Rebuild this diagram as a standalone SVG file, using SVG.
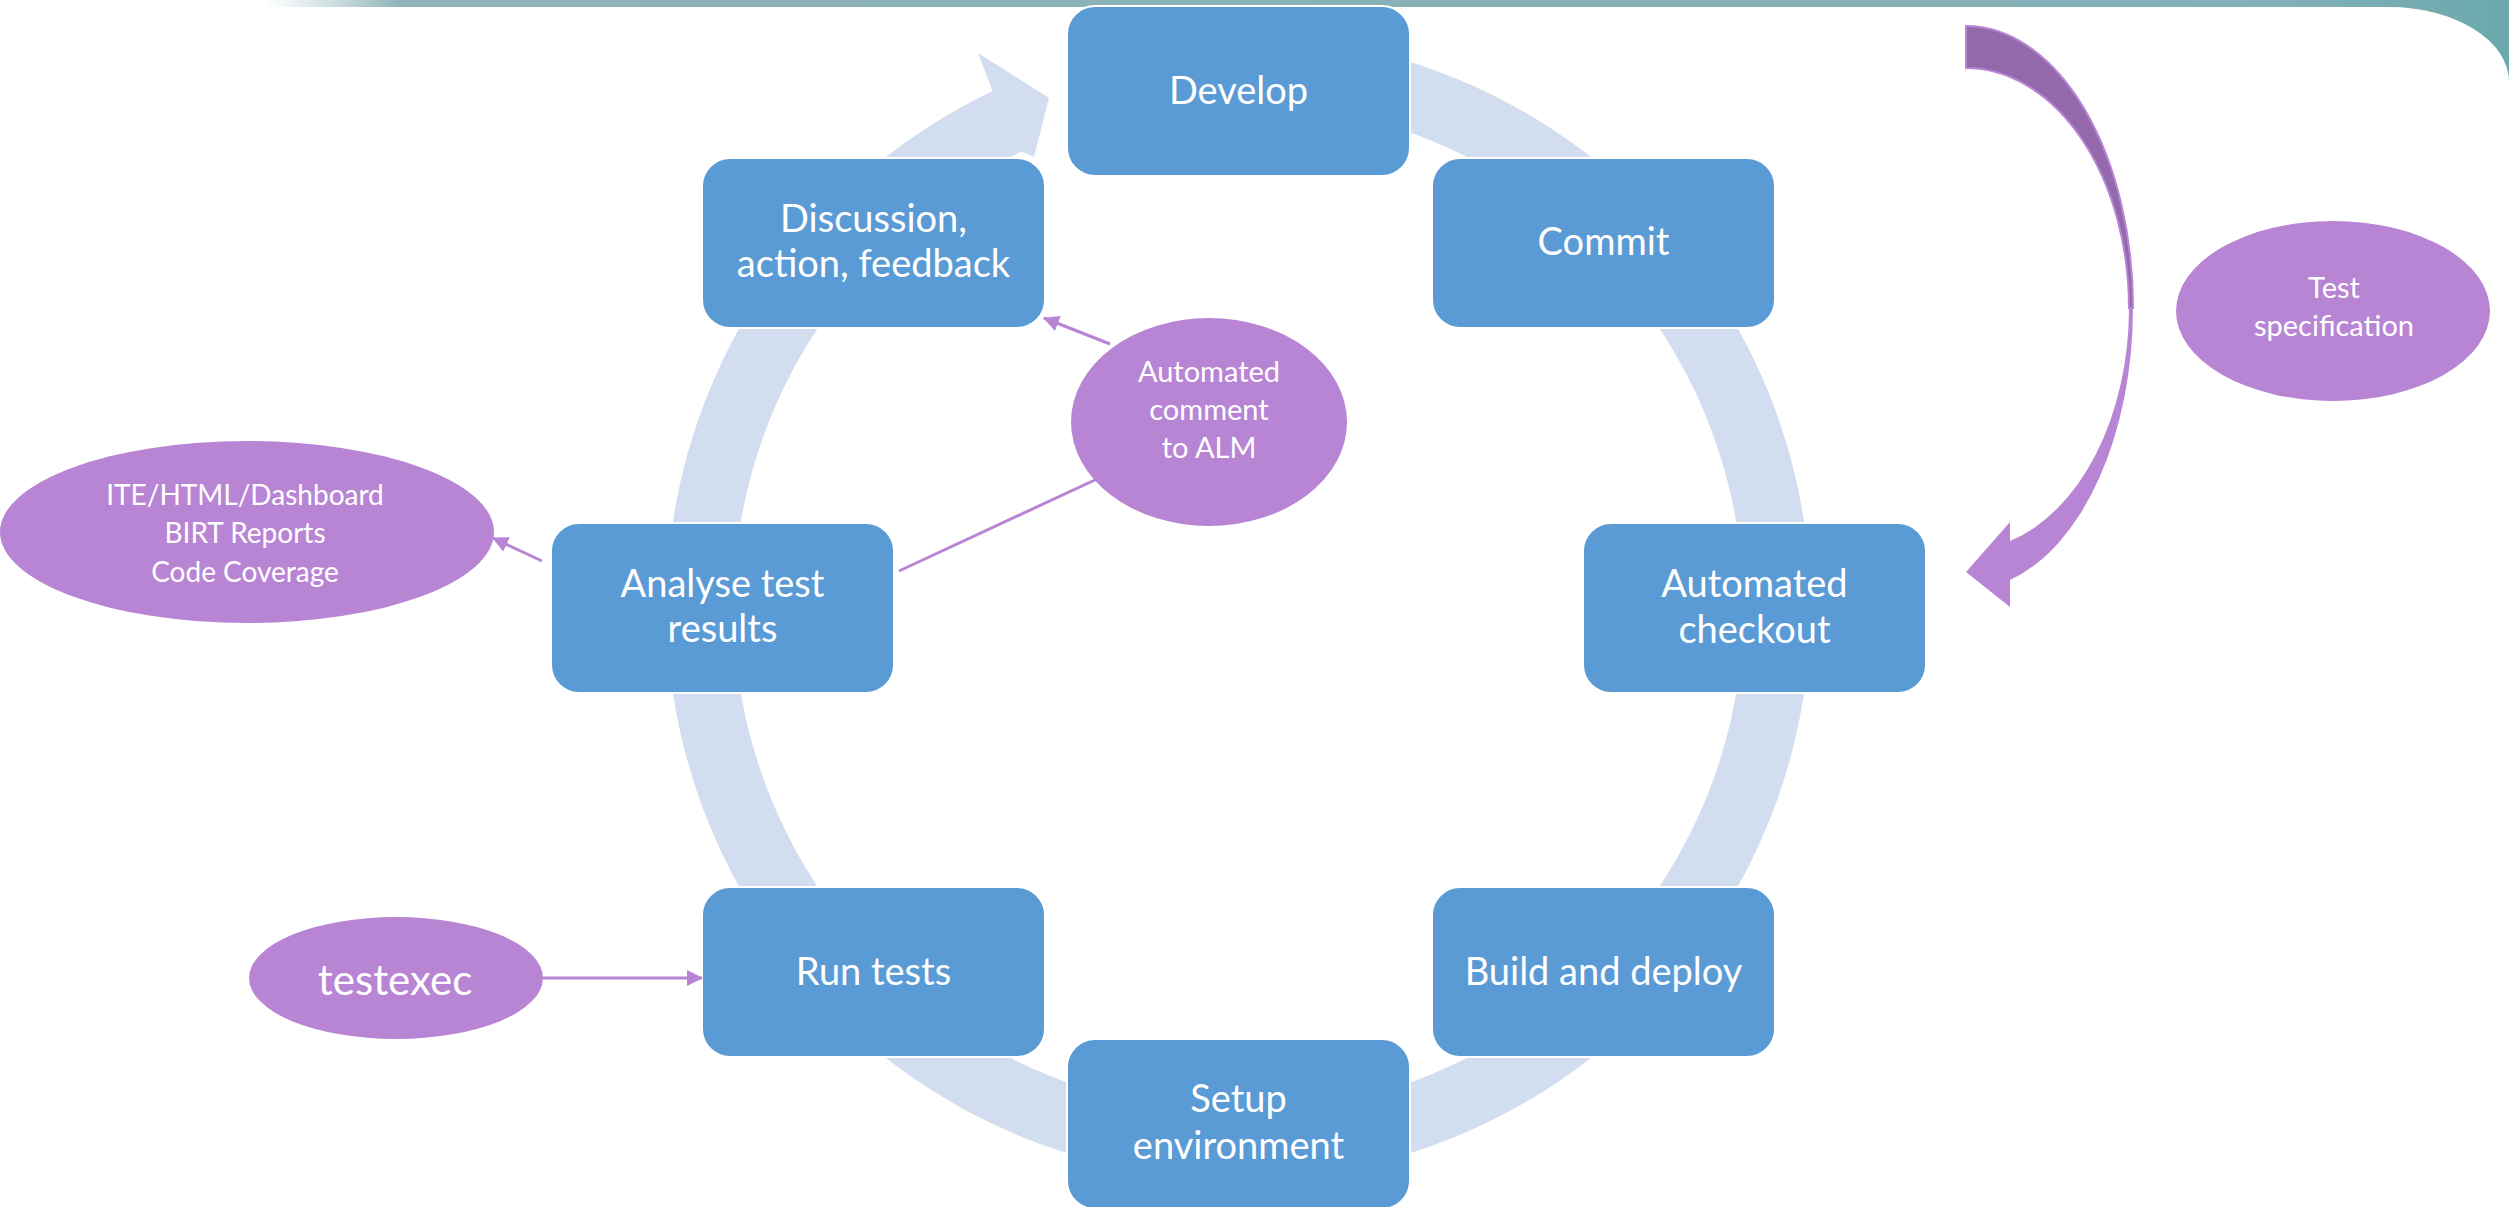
<svg xmlns="http://www.w3.org/2000/svg" width="2509" height="1207" viewBox="0 0 2509 1207">
<style>
.box{fill:#5B9BD5;stroke:#ffffff;stroke-width:2}
.bt{font-family:Lato,"Open Sans","Liberation Sans",sans-serif;font-size:38px;fill:#ffffff;text-anchor:middle}
.ell{fill:#B885D5}
.et{font-family:Lato,"Open Sans","Liberation Sans",sans-serif;font-size:29px;fill:#ffffff;text-anchor:middle}
.conn{stroke:#B885D5;stroke-width:3;fill:none}
</style>
<defs>
<linearGradient id="band" x1="265" y1="0" x2="2509" y2="0" gradientUnits="userSpaceOnUse">
<stop offset="0" stop-color="#a9c6ca" stop-opacity="0"/>
<stop offset="0.06" stop-color="#8fb3b9"/>
<stop offset="0.9" stop-color="#82b0b6"/>
<stop offset="1" stop-color="#6aa9ad"/>
</linearGradient>
<marker id="ah" viewBox="0 0 16 16" refX="15" refY="8" markerWidth="16" markerHeight="16" markerUnits="userSpaceOnUse" orient="auto">
<path d="M0,0 L16,8 L0,16 Z" fill="#B885D5"/>
</marker>
</defs>
<rect x="0" y="0" width="2509" height="1207" fill="#ffffff"/>
<g id="frame">
<rect x="265" y="0" width="2244" height="160" fill="url(#band)"/>
<rect x="-200" y="7" width="2709" height="1400" rx="120" ry="75" fill="#ffffff"/>
</g>
<g id="cycle-ring">
<path d="M1238.5,35.5 A572,572 0 1 1 992.5,91.1 L978,53 L1049,98 L1034,157 L1021.3,151.6 A505,505 0 1 0 1238.5,102.5 Z" fill="#D2DEEF"/>
</g>
<g id="spec-arrow">
<path d="M1966,26 A167,282 0 0 1 2133,308 L2129,308 A163,240 0 0 0 1966,68 Z" fill="#9469AB" stroke="#B885D5" stroke-width="2"/>
<path d="M2133,308 A167,282 0 0 1 2010,580 L2010,607 L1966,572 L2010,522 L2010,541 A163,242 0 0 0 2129,308 Z" fill="#B885D5"/>
</g>
<g id="develop"><rect class="box" x="1067" y="6" width="343" height="170" rx="28"/><text class="bt" x="1238.5" y="104">Develop</text></g>
<g id="commit"><rect class="box" x="1432" y="158" width="343" height="170" rx="28"/><text class="bt" x="1603.5" y="255">Commit</text></g>
<g id="checkout"><rect class="box" x="1583" y="523" width="343" height="170" rx="28"/><text class="bt" x="1754.5" y="597">Automated</text><text class="bt" x="1754.5" y="643">checkout</text></g>
<g id="build"><rect class="box" x="1432" y="887" width="343" height="170" rx="28"/><text class="bt" x="1603.5" y="985">Build and deploy</text></g>
<g id="setup"><rect class="box" x="1067" y="1039" width="343" height="170" rx="28"/><text class="bt" x="1238.5" y="1112">Setup</text><text class="bt" x="1238.5" y="1159">environment</text></g>
<g id="run"><rect class="box" x="702" y="887" width="343" height="170" rx="28"/><text class="bt" x="873.5" y="985">Run tests</text></g>
<g id="analyse"><rect class="box" x="551" y="523" width="343" height="170" rx="28"/><text class="bt" x="722.5" y="597">Analyse test</text><text class="bt" x="722.5" y="642">results</text></g>
<g id="discussion"><rect class="box" x="702" y="158" width="343" height="170" rx="28"/><text class="bt" x="873.5" y="232">Discussion,</text><text class="bt" x="873.5" y="277">action, feedback</text></g>
<g id="connectors">
<line class="conn" x1="543" y1="978" x2="702" y2="978" marker-end="url(#ah)"/>
<line class="conn" x1="542" y1="561" x2="493" y2="538" marker-end="url(#ah)"/>
<line class="conn" x1="899" y1="571" x2="1112" y2="472" marker-end="url(#ah)"/>
<line class="conn" x1="1110" y1="344" x2="1044" y2="318" marker-end="url(#ah)"/>
</g>
<g id="alm"><ellipse class="ell" cx="1209" cy="422" rx="138" ry="104"/><text class="et" x="1209" y="382">Automated</text><text class="et" x="1209" y="420">comment</text><text class="et" x="1209" y="458">to ALM</text></g>
<g id="testspec"><ellipse class="ell" cx="2333" cy="311" rx="157" ry="90"/><text class="et" x="2334" y="298">Test</text><text class="et" x="2334" y="336">specification</text></g>
<g id="reports"><ellipse class="ell" cx="247" cy="532" rx="247" ry="91"/><text class="et" x="245" y="505" style="font-size:28px">ITE/HTML/Dashboard</text><text class="et" x="245" y="543" style="font-size:28px">BIRT Reports</text><text class="et" x="245" y="582" style="font-size:28px">Code Coverage</text></g>
<g id="testexec"><ellipse class="ell" cx="396" cy="978" rx="147" ry="61"/><text class="et" x="395" y="995" style="font-size:42px">testexec</text></g>
</svg>
